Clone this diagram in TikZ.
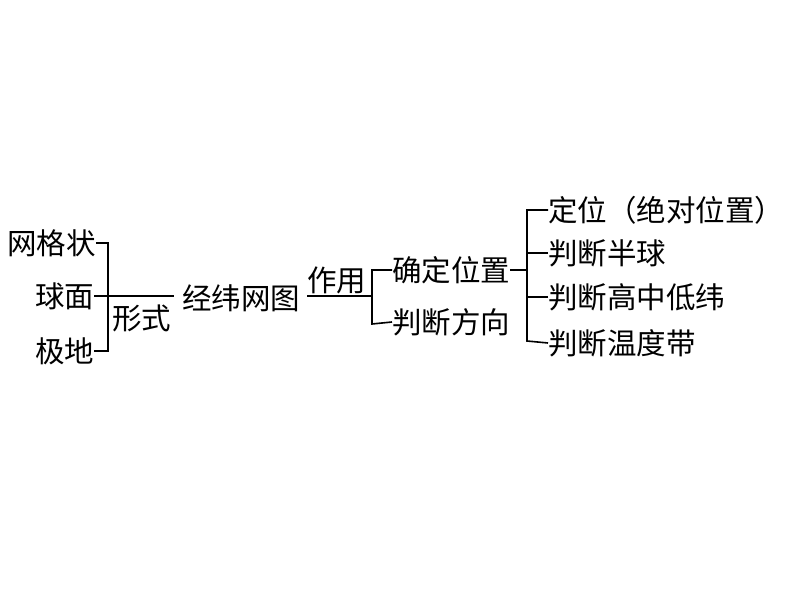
\documentclass[tikz,border=0pt]{standalone}
\usepackage{fontspec}
\newfontfamily\cjk{Noto Sans CJK SC}[Scale=1]
\begin{document}
\begin{tikzpicture}[x=1pt,y=-1pt,
  t/.style={inner sep=0pt,anchor=west,font=\cjk\fontsize{29.5}{31}\selectfont},
  ln/.style={line width=1.6pt}]
\useasboundingbox (0,0) rectangle (794,596);
\node[t] (a1) at (7,243) {网格状};
\node[t] (a2) at (35,296) {球面};
\node[t] (a3) at (35,351) {极地};
\node[t] (xs) at (112,318) {形式};
\node[t] (jw) at (182,298) {经纬网图};
\node[t] (zy) at (307,280) {作用};
\node[t] (qd) at (392,270) {确定位置};
\node[t] (pf) at (392,322) {判断方向};
\node[t] (c1) at (548,210) {定位（绝对位置）};
\node[t] (c2) at (548,253) {判断半球};
\node[t] (c3) at (548,297) {判断高中低纬};
\node[t] (c4) at (548,343) {判断温度带};
\coordinate (j1) at (174,296);
\coordinate (j2) at (307,296);
\draw[ln] (a1.east) -- (108,243) -- (108,351) -- (a3.east);
\draw[ln] (a2.east) -- (j1);
\draw[ln] (j2) -- (372,296);
\draw[ln] (qd.west) -- (372,270) -- (372,324) -- (pf.west);
\draw[ln] (qd.east) -- (527,270);
\draw[ln] (c1.west) -- (527,210) -- (527,341) -- (c4.west);
\draw[ln] (c2.west) -- (527,253);
\draw[ln] (c3.west) -- (527,297);
\end{tikzpicture}
\end{document}
